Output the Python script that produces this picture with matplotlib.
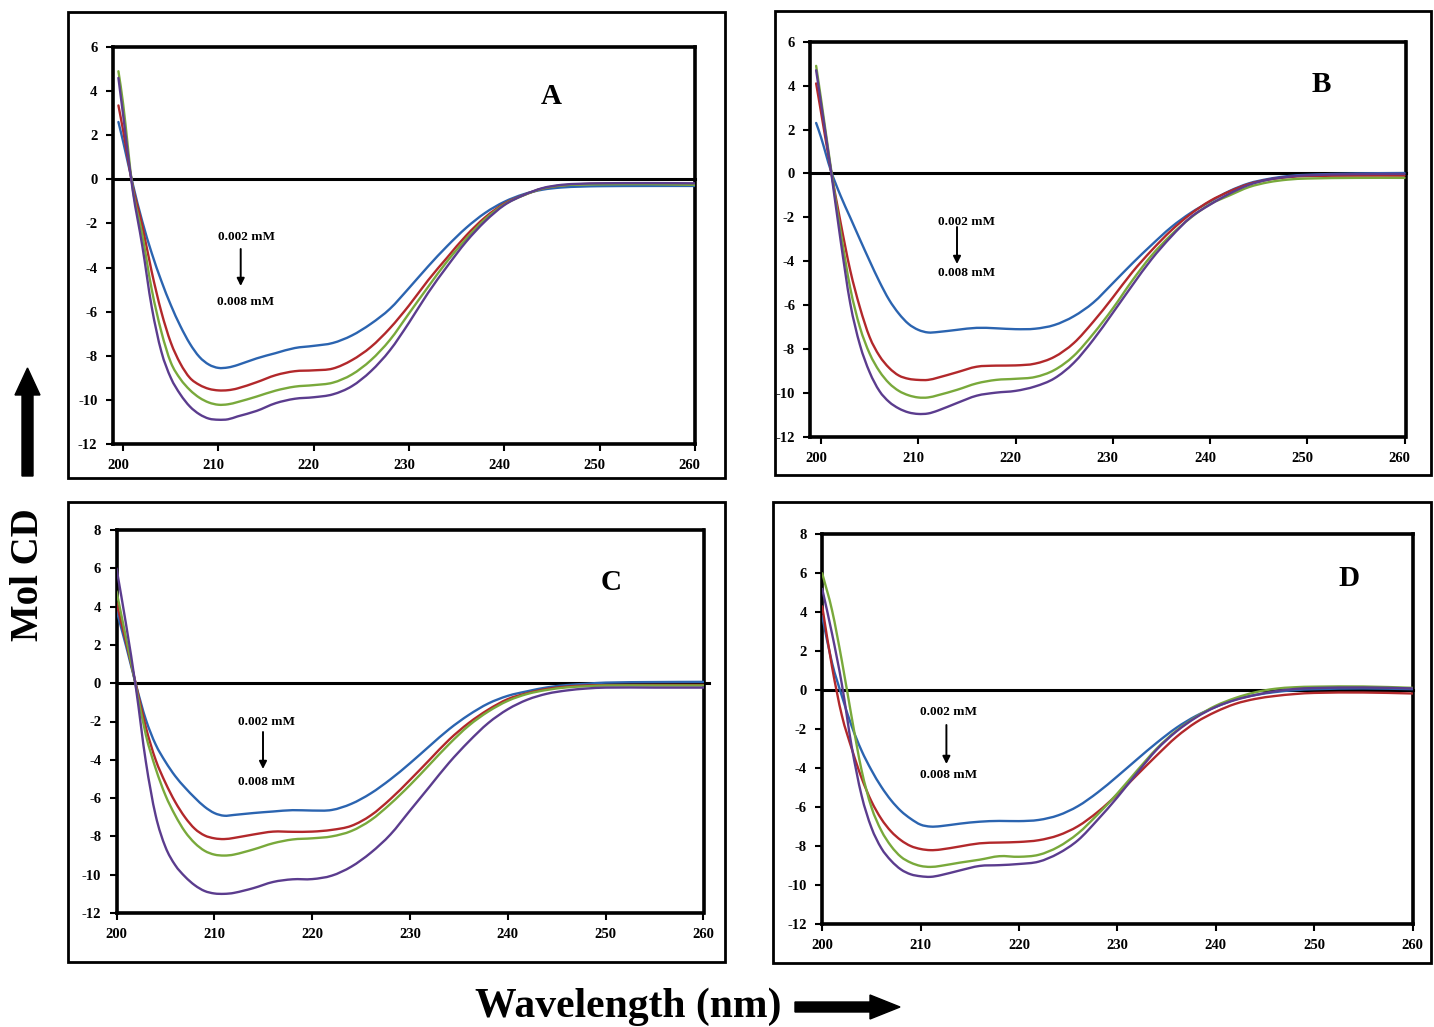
import matplotlib
matplotlib.use("Agg")
import matplotlib.pyplot as plt
from matplotlib.patches import Rectangle, FancyArrow, PathPatch
from matplotlib.path import Path
from matplotlib.transforms import ScaledTranslation

plt.rcParams['font.family'] = ['Liberation Serif', 'DejaVu Serif']
plt.rcParams['font.weight'] = 'bold'
plt.rcParams['axes.unicode_minus'] = False

W, H = 1434, 1027

# wavelengths (nm) at which the spectra were read
WL_AB = [199.5, 200, 201, 202, 203, 204, 205, 206, 207, 208, 209, 210, 211, 212,
         214, 216, 218, 220, 222, 224, 226, 228, 230, 232, 234, 236, 238, 240,
         242, 244, 246, 248, 250, 255, 260]
WL_CD = [200, 201, 202, 203, 204, 205, 206, 207, 208, 209, 210, 211, 212,
         214, 216, 218, 220, 222, 224, 226, 228, 230, 232, 234, 236, 238, 240,
         242, 244, 246, 248, 250, 255, 260]

# Mol CD, one list per concentration (0.002, 0.004, 0.006, 0.008 mM)
a_002 = [2.6, 1.7, -0.2, -1.9, -3.35, -4.6, -5.7, -6.65, -7.45, -8.05, -8.4, -8.55, -8.53, -8.42,
         -8.12, -7.88, -7.65, -7.55, -7.42, -7.08, -6.55, -5.87, -4.93, -3.95, -3.03, -2.2, -1.52, -1.02,
         -0.68, -0.47, -0.37, -0.33, -0.31, -0.3, -0.3]
a_004 = [3.35, 2.2, -0.3, -2.1, -4.2, -6.0, -7.4, -8.35, -9.0, -9.32, -9.5, -9.57, -9.56, -9.48,
         -9.2, -8.88, -8.7, -8.66, -8.58, -8.2, -7.6, -6.75, -5.72, -4.58, -3.55, -2.55, -1.72, -1.1,
         -0.72, -0.42, -0.28, -0.22, -0.2, -0.2, -0.22]
a_006 = [4.9, 3.4, -0.4, -2.5, -5.0, -6.9, -8.3, -9.05, -9.55, -9.9, -10.12, -10.22, -10.2, -10.1,
         -9.85, -9.58, -9.4, -9.33, -9.22, -8.85, -8.2, -7.28, -6.08, -4.88, -3.72, -2.7, -1.8, -1.14,
         -0.73, -0.42, -0.28, -0.24, -0.23, -0.22, -0.25]
a_008 = [4.6, 2.9, -0.5, -3.0, -5.8, -7.8, -9.0, -9.75, -10.3, -10.65, -10.85, -10.9, -10.88, -10.75,
         -10.5, -10.15, -9.95, -9.88, -9.75, -9.38, -8.7, -7.75, -6.5, -5.15, -3.95, -2.83, -1.9, -1.17,
         -0.72, -0.4, -0.25, -0.2, -0.18, -0.17, -0.18]

b_002 = [2.3, 1.65, 0.15, -1.0, -2.0, -3.0, -3.98, -4.92, -5.75, -6.38, -6.85, -7.12, -7.24, -7.22,
         -7.12, -7.03, -7.05, -7.09, -7.07, -6.9, -6.5, -5.88, -5.0, -4.1, -3.25, -2.45, -1.8, -1.28,
         -0.8, -0.45, -0.25, -0.12, -0.06, 0.0, 0.02]
b_004 = [4.1, 2.8, 0.2, -2.2, -4.4, -6.1, -7.45, -8.3, -8.85, -9.2, -9.35, -9.4, -9.4, -9.3,
         -9.05, -8.8, -8.75, -8.74, -8.66, -8.35, -7.72, -6.75, -5.65, -4.5, -3.5, -2.6, -1.85, -1.25,
         -0.82, -0.48, -0.28, -0.17, -0.12, -0.1, -0.1]
b_006 = [4.9, 3.4, 0.3, -2.6, -5.2, -7.0, -8.2, -9.0, -9.55, -9.9, -10.1, -10.2, -10.2, -10.1,
         -9.85, -9.56, -9.4, -9.35, -9.27, -8.95, -8.3, -7.3, -6.15, -4.88, -3.73, -2.8, -2.02, -1.4,
         -1.0, -0.62, -0.4, -0.28, -0.23, -0.2, -0.2]
b_008 = [4.7, 3.2, 0.2, -3.0, -5.9, -7.8, -9.05, -9.9, -10.4, -10.7, -10.88, -10.95, -10.93, -10.8,
         -10.45, -10.12, -9.98, -9.9, -9.7, -9.33, -8.62, -7.57, -6.35, -5.1, -3.9, -2.88, -2.0, -1.42,
         -0.92, -0.52, -0.28, -0.15, -0.08, -0.03, -0.02]

c_002 = [3.8, 1.9, -0.1, -1.9, -3.2, -4.1, -4.85, -5.45, -5.98, -6.45, -6.78, -6.92, -6.88,
         -6.78, -6.7, -6.63, -6.65, -6.62, -6.3, -5.75, -5.02, -4.18, -3.28, -2.4, -1.66, -1.06, -0.66,
         -0.42, -0.22, -0.1, -0.03, 0.03, 0.06, 0.07]
c_004 = [4.2, 2.1, -0.1, -2.3, -4.0, -5.2, -6.2, -7.0, -7.6, -7.95, -8.1, -8.14, -8.08,
         -7.9, -7.75, -7.76, -7.75, -7.66, -7.45, -6.9, -6.05, -5.05, -4.0, -2.95, -2.08, -1.38, -0.83,
         -0.52, -0.3, -0.18, -0.12, -0.1, -0.09, -0.09]
c_006 = [4.8, 2.3, -0.2, -2.7, -4.45, -5.85, -6.9, -7.75, -8.35, -8.75, -8.95, -9.0, -8.95,
         -8.68, -8.36, -8.16, -8.1, -8.0, -7.72, -7.15, -6.3, -5.32, -4.25, -3.18, -2.22, -1.48, -0.92,
         -0.56, -0.35, -0.22, -0.16, -0.12, -0.12, -0.12]
c_008 = [6.0, 3.0, -0.3, -4.1, -6.9, -8.55, -9.5, -10.1, -10.55, -10.85, -10.98, -11.0, -10.95,
         -10.7, -10.38, -10.24, -10.23, -10.05, -9.58, -8.85, -7.9, -6.65, -5.4, -4.15, -3.05, -2.08, -1.36,
         -0.86, -0.55, -0.38, -0.28, -0.23, -0.23, -0.23]

d_002 = [3.8, 1.4, -0.3, -1.85, -3.1, -4.1, -4.95, -5.65, -6.2, -6.6, -6.9, -7.0, -6.98,
         -6.85, -6.75, -6.71, -6.72, -6.66, -6.42, -5.95, -5.25, -4.42, -3.55, -2.7, -1.93, -1.32, -0.86,
         -0.48, -0.25, -0.1, 0.0, 0.05, 0.09, 0.05]
d_004 = [4.3, 1.2, -1.3, -3.0, -4.5, -5.7, -6.6, -7.25, -7.7, -8.0, -8.15, -8.21, -8.18,
         -8.02, -7.86, -7.82, -7.79, -7.7, -7.45, -6.98, -6.25, -5.35, -4.35, -3.35, -2.4, -1.65, -1.11,
         -0.7, -0.45, -0.3, -0.2, -0.14, -0.12, -0.17]
d_006 = [6.0, 4.1, 1.5, -1.4, -4.1, -6.0, -7.2, -8.0, -8.55, -8.85, -9.02, -9.07, -9.02,
         -8.85, -8.7, -8.52, -8.55, -8.45, -8.04, -7.35, -6.38, -5.3, -4.13, -3.0, -2.08, -1.37, -0.8,
         -0.4, -0.11, 0.07, 0.15, 0.18, 0.19, 0.12]
d_008 = [5.2, 2.9, 0.3, -2.9, -5.4, -7.05, -8.1, -8.75, -9.2, -9.45, -9.55, -9.58, -9.5,
         -9.25, -9.02, -8.98, -8.92, -8.8, -8.38, -7.7, -6.65, -5.5, -4.25, -3.05, -2.12, -1.4, -0.86,
         -0.5, -0.25, -0.06, 0.06, 0.11, 0.14, 0.09]

COLORS = ['#2b64b0', '#b2282b', '#79a93b', '#5b3c8e']
X_TICKS = [200, 210, 220, 230, 240, 250, 260]


def fx(px):
    return px / W


def fy(py):
    return 1 - py / H


def smooth_line(xs, ys):
    # Excel-style smoothed line: cubic Bezier segments through every point,
    # tangents taken from the neighbouring points
    n = len(xs)
    slopes = []
    for i in range(n):
        j0, j1 = max(i - 1, 0), min(i + 1, n - 1)
        slopes.append((ys[j1] - ys[j0]) / (xs[j1] - xs[j0]))
    verts = [(xs[0], ys[0])]
    codes = [Path.MOVETO]
    for i in range(n - 1):
        h = (xs[i + 1] - xs[i]) / 3
        verts += [(xs[i] + h, ys[i] + slopes[i] * h),
                  (xs[i + 1] - h, ys[i + 1] - slopes[i + 1] * h),
                  (xs[i + 1], ys[i + 1])]
        codes += [Path.CURVE4] * 3
    return Path(verts, codes)


def add_box(fig, left, top, right, bottom, lw=2.0):
    fig.add_artist(Rectangle((fx(left), fy(bottom)), (right - left) / W, (bottom - top) / H,
                             transform=fig.transFigure, fill=False, ec='black', lw=lw))


def draw_panel(fig, p):
    left, top, right, bottom = p['axes']
    ax = fig.add_axes([fx(left), fy(bottom), (right - left) / W, (bottom - top) / H])
    for ys, c in zip(p['series'], COLORS):
        ax.add_patch(PathPatch(smooth_line(p['wl'], ys), fill=False, ec=c, lw=1.7,
                               capstyle='round', joinstyle='round', zorder=3))
    ax.axhline(0, xmin=0, xmax=p['zero_end'], color='black', lw=2.2, zorder=2, clip_on=False)

    ax.set_xlim(*p['xlim'])
    ax.set_ylim(*p['ylim'])
    ax.set_xticks(X_TICKS)
    ax.set_yticks(p['yticks'])
    ax.tick_params(direction='out', length=5, width=1.5, labelsize=10.5, pad=6)
    for s in ax.spines.values():
        s.set_linewidth(2.6)
    for lab in ax.get_xticklabels() + ax.get_yticklabels():
        lab.set_fontweight('bold')
    if p['label_shift']:
        shift = ScaledTranslation(-0.05, 0, fig.dpi_scale_trans)
        for lab in ax.get_xticklabels():
            lab.set_transform(lab.get_transform() + shift)

    # panel letter and concentration arrow
    lx, ly = p['letter_pos']
    fig.text(fx(lx), fy(ly), p['letter'], fontsize=21, fontweight='bold', ha='center', va='center')
    tx, t1, ax_x, a1, a2, t2 = p['note']
    fig.text(fx(tx), fy(t1), '0.002 mM', fontsize=9.5, fontweight='bold', ha='center', va='center')
    fig.text(fx(tx), fy(t2), '0.008 mM', fontsize=9.5, fontweight='bold', ha='center', va='center')
    ax.annotate('', xy=(ax_x, H - a2), xytext=(ax_x, H - a1),
                xycoords='figure pixels', textcoords='figure pixels',
                arrowprops=dict(arrowstyle='-|>', color='black', lw=1.4, mutation_scale=11,
                                shrinkA=0, shrinkB=0))
    return ax


panels = [
    dict(letter='A', wl=WL_AB, series=[a_002, a_004, a_006, a_008],
         axes=(112.7, 47, 694.8, 444), xlim=(198.9, 260.0), ylim=(-12, 6),
         yticks=list(range(-12, 7, 2)), zero_end=1.0, label_shift=True,
         letter_pos=(551, 97), note=(246, 237, 240.7, 249, 286, 302)),
    dict(letter='B', wl=WL_AB, series=[b_002, b_004, b_006, b_008],
         axes=(810.3, 41.7, 1405.5, 437), xlim=(198.9, 260.1), ylim=(-12, 6),
         yticks=list(range(-12, 7, 2)), zero_end=1.0, label_shift=True,
         letter_pos=(1321, 85), note=(967, 222, 957, 227, 264, 273)),
    dict(letter='C', wl=WL_CD, series=[c_002, c_004, c_006, c_008],
         axes=(116.5, 530, 703.5, 913), xlim=(200, 260), ylim=(-12, 8),
         yticks=list(range(-12, 9, 2)), zero_end=1.009, label_shift=False,
         letter_pos=(611, 583), note=(267, 722, 263, 732, 769, 782)),
    dict(letter='D', wl=WL_CD, series=[d_002, d_004, d_006, d_008],
         axes=(822.2, 534.3, 1412.5, 924), xlim=(200, 260), ylim=(-12, 8),
         yticks=list(range(-12, 9, 2)), zero_end=1.0, label_shift=False,
         letter_pos=(1349, 578), note=(949, 712, 946.4, 725, 764, 775)),
]

fig = plt.figure(figsize=(W / 100, H / 100), dpi=100)

# outer boxes around each panel
add_box(fig, 68, 12, 725, 478)
add_box(fig, 775, 11, 1431, 475)
add_box(fig, 68, 502, 725, 962)
add_box(fig, 773, 502, 1431, 963)

for p in panels:
    draw_panel(fig, p)

# shared axis titles with direction arrows
fig.text(fx(28), fy(575), 'Mol CD', rotation=90, fontsize=28, fontweight='bold',
         ha='center', va='center')
fig.add_artist(FancyArrow(0.275, (H - 476) / 100, 0, (476 - 368) / 100, width=0.11,
                          head_width=0.25, head_length=0.27, length_includes_head=True,
                          color='black', transform=fig.dpi_scale_trans))
fig.text(fx(628), fy(1017), 'Wavelength (nm)', fontsize=30, fontweight='bold',
         ha='center', va='baseline')
fig.add_artist(FancyArrow(7.95, (H - 1007) / 100, 1.05, 0, width=0.10,
                          head_width=0.24, head_length=0.30, length_includes_head=True,
                          color='black', transform=fig.dpi_scale_trans))

fig.savefig('out.png', dpi=100)
